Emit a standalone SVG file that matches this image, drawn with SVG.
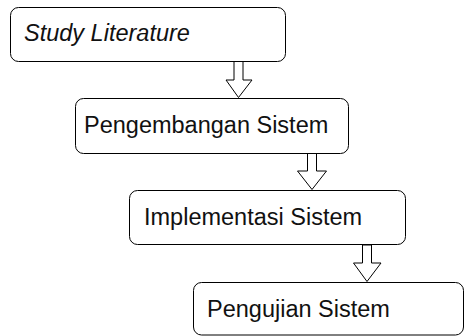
<svg xmlns="http://www.w3.org/2000/svg" width="465" height="336" viewBox="0 0 465 336">
<style>
.box{fill:#fff;stroke:#000;stroke-width:1}
.lbl{font-family:"Liberation Sans",Arial,sans-serif;font-size:23.5px;fill:#111}
.arr{fill:#fff;stroke:#000;stroke-width:1;stroke-linejoin:miter}
</style>
<rect width="465" height="336" fill="#fff"/>
<g id="connectors">
<path class="arr" d="M234,61.5 V80 H226 L238.5,97.5 L252,80 H243 V61.5 Z"/>
<path class="arr" d="M307.5,153.5 V171 H297.5 L312,189.5 L326.5,171 H316.5 V153.5 Z"/>
<path class="arr" d="M362.5,245 V263 H353.5 L367,281.5 L381,263 H371.5 V245 Z"/>
</g>
<g id="n1">
<rect class="box" x="10.5" y="7.5" width="275" height="54" rx="8"/>
<text class="lbl" x="24" y="41" font-style="italic">Study Literature</text>
</g>
<g id="n2">
<rect class="box" x="75.5" y="98.5" width="273" height="55" rx="8"/>
<text class="lbl" x="84" y="133">Pengembangan Sistem</text>
</g>
<g id="n3">
<rect class="box" x="129.5" y="190.5" width="276" height="54" rx="8"/>
<text class="lbl" x="144" y="225">Implementasi Sistem</text>
</g>
<g id="n4">
<rect class="box" x="193.5" y="282.5" width="270" height="52.5" rx="8"/>
<text class="lbl" x="207" y="317">Pengujian Sistem</text>
</g>
</svg>
